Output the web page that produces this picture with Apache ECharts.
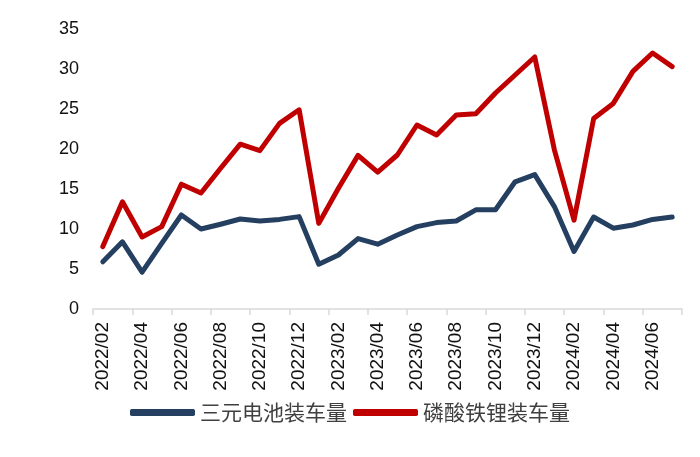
<!DOCTYPE html>
<html>
<head>
<meta charset="utf-8">
<script src="https://cdn.jsdelivr.net/npm/echarts@6/dist/echarts.min.js"></script>
<style>html,body{margin:0;padding:0;background:#fff;}#c{width:700px;height:457px;}</style>
</head>
<body>
<div id="c"></div>
<script>
var categories = ['2022/02','2022/03','2022/04','2022/05','2022/06','2022/07','2022/08','2022/09','2022/10','2022/11','2022/12',
  '2023/01','2023/02','2023/03','2023/04','2023/05','2023/06','2023/07','2023/08','2023/09','2023/10','2023/11','2023/12',
  '2024/01','2024/02','2024/03','2024/04','2024/05','2024/06','2024/07'];
var ternary = [5.9,8.4,4.6,8.2,11.75,10.0,10.6,11.25,11.0,11.2,11.55,
  5.6,6.75,8.8,8.1,9.25,10.3,10.8,11.0,12.4,12.4,15.9,16.8,
  12.8,7.2,11.5,10.1,10.5,11.2,11.5];
var lfp = [7.8,13.4,9.0,10.3,15.6,14.5,17.6,20.6,19.8,23.2,24.9,
  10.7,15.1,19.2,17.1,19.25,23.0,21.75,24.25,24.4,27.0,29.25,31.5,
  19.9,11.1,23.8,25.7,29.7,32.0,30.3];
var seriesNames = ['三元电池装车量','磷酸铁锂装车量'];
var yTicks = {min:0, max:35, interval:5};

var chart = echarts.init(document.getElementById('c'), null, {renderer:'canvas'});
chart.setOption({
  animation:false,
  color:['#243F60','#C00000'],
  grid:{left:93, right:18, top:29, bottom:148},
  legend:{
    data:seriesNames, bottom:29, left:'center', icon:'roundRect',
    itemWidth:65, itemHeight:7, itemGap:6,
    textStyle:{fontSize:21, color:'#404040', fontFamily:'Noto Sans CJK SC'}
  },
  xAxis:{
    type:'category', data:categories, boundaryGap:true,
    axisLine:{lineStyle:{color:'#d9d9d9', width:1.5}},
    axisTick:{show:true, interval:1, length:6, lineStyle:{color:'#d9d9d9', width:1.5}},
    axisLabel:{interval:1, rotate:90, fontSize:19, color:'#111', fontFamily:'Liberation Sans', margin:13}
  },
  yAxis:{
    type:'value', min:yTicks.min, max:yTicks.max, interval:yTicks.interval,
    splitLine:{show:false}, axisLine:{show:false}, axisTick:{show:false},
    axisLabel:{fontSize:18, color:'#111', fontFamily:'Liberation Sans', margin:14}
  },
  series:[
    {name:seriesNames[0], type:'line', data:ternary, symbol:'none', lineStyle:{width:5, color:'#243F60', cap:'round', join:'round'}},
    {name:seriesNames[1], type:'line', data:lfp, symbol:'none', lineStyle:{width:5, color:'#C00000', cap:'round', join:'round'}}
  ]
});
</script>
</body>
</html>
